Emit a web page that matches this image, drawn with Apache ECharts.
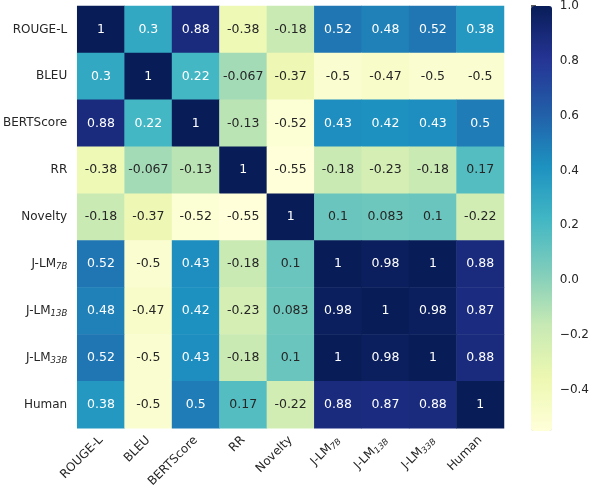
<!DOCTYPE html>
<html>
<head>
<meta charset="utf-8">
<script src="https://cdn.jsdelivr.net/npm/echarts@6/dist/echarts.min.js"></script>
<style>html,body{margin:0;padding:0;background:#fff}#c{width:592px;height:490px}</style>
</head>
<body>
<div id="c"></div>
<script>
var categories = ['ROUGE-L','BLEU','BERTScore','RR','Novelty','J-LM7B','J-LM13B','J-LM33B','Human'];
var rowROUGE  = [1, 0.3, 0.88, -0.38, -0.18, 0.52, 0.48, 0.52, 0.38];
var rowBLEU   = [0.3, 1, 0.22, -0.067, -0.37, -0.5, -0.47, -0.5, -0.5];
var rowBERT   = [0.88, 0.22, 1, -0.13, -0.52, 0.43, 0.42, 0.43, 0.5];
var rowRR     = [-0.38, -0.067, -0.13, 1, -0.55, -0.18, -0.23, -0.18, 0.17];
var rowNovel  = [-0.18, -0.37, -0.52, -0.55, 1, 0.1, 0.083, 0.1, -0.22];
var rowJ7     = [0.52, -0.5, 0.43, -0.18, 0.1, 1, 0.98, 1, 0.88];
var rowJ13    = [0.48, -0.47, 0.42, -0.23, 0.083, 0.98, 1, 0.98, 0.87];
var rowJ33    = [0.52, -0.5, 0.43, -0.18, 0.1, 1, 0.98, 1, 0.88];
var rowHuman  = [0.38, -0.5, 0.5, 0.17, -0.22, 0.88, 0.87, 0.88, 1];
var colorbarTicks = [-0.4, -0.2, 0.0, 0.2, 0.4, 0.6, 0.8, 1.0];
var vMin = -0.55, vMax = 1;

var rows = [rowROUGE,rowBLEU,rowBERT,rowRR,rowNovel,rowJ7,rowJ13,rowJ33,rowHuman];
var data = [];
rows.forEach(function(r, i){
  r.forEach(function(v, j){
    data.push({value:[j, i, v], label:{color: v >= 0.2 ? '#ffffff' : '#262626'}});
  });
});

var FONT = 'DejaVu Sans';
function fmtCat(name){
  var m = name.match(/^J-LM(\d+B)$/);
  if (m) return 'J-LM{sub|' + m[1] + '}';
  return name;
}
var rich = {sub:{fontSize:8.5, fontStyle:'italic', fontFamily:FONT, color:'#262626', verticalAlign:'bottom', padding:[6,0,0,0]}};

var chart = echarts.init(document.getElementById('c'), null, {renderer:'canvas'});
chart.setOption({
  animation:false,
  backgroundColor:'#ffffff',
  grid:[
    {left:76, top:6, width:428, height:425},
    {left:531, top:6, width:21, height:425}
  ],
  xAxis:[
    {type:'category', data:categories, gridIndex:0, axisLine:{show:false}, axisTick:{show:false}, splitLine:{show:false},
     axisLabel:{rotate:45, interval:0, margin:10, fontSize:12, fontFamily:FONT, color:'#262626', formatter:fmtCat, rich:rich}},
    {type:'value', gridIndex:1, show:false, min:0, max:1}
  ],
  yAxis:[
    {type:'category', data:categories, inverse:true, gridIndex:0, axisLine:{show:false}, axisTick:{show:false}, splitLine:{show:false},
     axisLabel:{interval:0, margin:10, fontSize:12, fontFamily:FONT, color:'#262626', formatter:fmtCat, rich:rich}},
    {type:'value', gridIndex:1, min:vMin, max:vMax, position:'right',
     axisLine:{show:false}, splitLine:{show:false},
     axisTick:{show:true, length:5, lineStyle:{color:'#262626', width:1.5}, customValues:colorbarTicks},
     axisLabel:{margin:8, fontSize:12, fontFamily:FONT, color:'#262626', customValues:colorbarTicks,
       formatter:function(v){ var s = Math.abs(v).toFixed(1); return (v < -1e-9 ? '\u2212' : '') + s; }}}
  ],
  visualMap:{
    type:'continuous', min:vMin, max:vMax, seriesIndex:0, calculable:false, hoverLink:false,
    left:531, top:6, itemWidth:21, itemHeight:425, padding:0, text:null, showLabel:false, indicatorSize:0,
    inRange:{color:['#ffffd9','#edf8b1','#c7e9b4','#7fcdbb','#41b6c4','#1d91c0','#225ea8','#253494','#081d58']}
  },
  series:[{
    type:'heatmap', xAxisIndex:0, yAxisIndex:0, data:data,
    label:{show:true, fontSize:12.5, fontFamily:FONT, formatter:function(p){return String(p.value[2]);}},
    itemStyle:{borderWidth:0}
  }]
});
</script>
</body>
</html>
